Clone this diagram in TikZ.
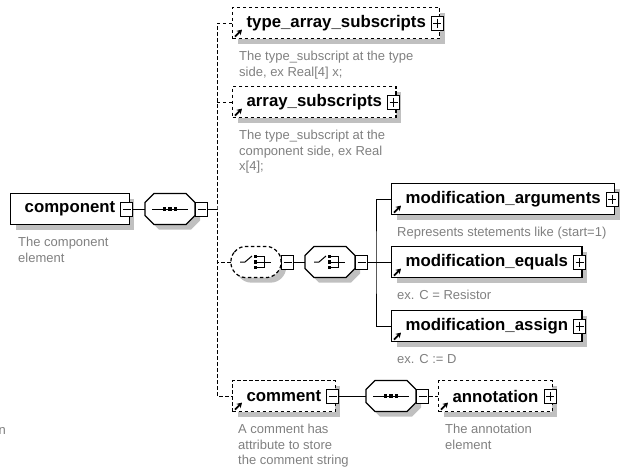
\documentclass[tikz,border=0pt]{standalone}
\usepackage{fontspec}
\setmainfont{Liberation Sans}
\usetikzlibrary{positioning,shadows,arrows.meta}

\definecolor{descgray}{RGB}{128,128,128}
\definecolor{shadowgray}{RGB}{192,192,192}

\tikzset{
  boxshadow/.style={general shadow={fill=shadowgray, shadow xshift=5pt, shadow yshift=-5pt}},
  elem/.style={draw, line width=1.2pt, fill=white, boxshadow, inner xsep=14pt, inner ysep=0pt,
    minimum height=31pt, font=\fontsize{16.8}{20}\selectfont\bfseries},
  optional/.style={dash pattern=on 3.5pt off 2.5pt},
  % the octagon itself is drawn by the pic below
  compositor/.style={minimum width=50pt, minimum height=31pt, inner sep=0pt},
  pmbox/.style={draw, line width=1pt, fill=white, minimum width=12pt, minimum height=14pt, inner sep=0pt},
  minus/.style={pmbox, path picture={\draw[line width=1pt]
      ([xshift=2pt]path picture bounding box.west) -- ([xshift=-2pt]path picture bounding box.east);}},
  plus/.style={pmbox, path picture={\draw[line width=1pt]
      ([xshift=2pt]path picture bounding box.west) -- ([xshift=-2pt]path picture bounding box.east)
      ([yshift=-2.5pt]path picture bounding box.north) -- ([yshift=2.5pt]path picture bounding box.south);}},
  link/.style={line width=1pt},
  optlink/.style={link, optional},
  refarrow/.style={line width=1.9pt, -{Stealth[length=5pt,width=6pt]}},
  desc/.style={font=\fontsize{13}{15.5}\selectfont, text=descgray, align=left, inner sep=0pt},
  octagon/.pic={
    \fill[shadowgray, xshift=5pt, yshift=-5pt]
      (-25,-6.5) -- (-16,-15.5) -- (16,-15.5) -- (25,-6.5) -- (25,6.5) -- (16,15.5) -- (-16,15.5) -- (-25,6.5) -- cycle;
    \draw[line width=1.2pt, fill=white]
      (-25,-6.5) -- (-16,-15.5) -- (16,-15.5) -- (25,-6.5) -- (25,6.5) -- (16,15.5) -- (-16,15.5) -- (-25,6.5) -- cycle;
  },
  % sequence: a line with three dots
  seqicon/.pic={
    \draw[line width=1pt] (-18,0) -- (18,0);
    \foreach \d in {-5.5,0,5.5} \fill (\d-1.8,-1.8) rectangle (\d+1.8,1.8);
  },
  % choice: a switch in front of three stacked dots
  choiceicon/.pic={
    \draw[line width=1pt] (-16,0) -- (-11,0) -- (-4,-6);
    \foreach \d in {-5.5,0,5.5} \fill (-2.5,\d-1.7) rectangle (1,\d+1.7);
    \draw[line width=1pt] (1,-5.5) -- (8,-5.5) -- (8,5.5) -- (1,5.5) (1,0) -- (15,0);
  }
}

\begin{document}
\begin{tikzpicture}[x=1pt,y=-1pt]
\useasboundingbox (0,0) rectangle (622,475);

% root element and its sequence
\node[elem, line width=1.4pt, anchor=west] (comp) at (10,209) {component};
\node[minus] (comp-pm) at ([xshift=-3pt]comp.east) {};
\node[desc, below right=12pt and 8pt of comp.south west] (comp-desc) {The component\\element};

\node[compositor] (seqA) at (170,209) {};
\pic at (seqA) {octagon};
\pic at (seqA) {seqicon};
\node[minus, anchor=west] (seqA-pm) at (seqA.east) {};
\coordinate (fork) at (217,209);

% children of the sequence
\node[elem, optional, anchor=west] (tas) at (232,23) {type\_array\_subscripts};
\node[desc, below right=12pt and 7pt of tas.south west] (tas-desc) {The type\_subscript at the type\\side, ex Real[4] x;};

\node[elem, optional, anchor=west] (arr) at (232,102) {array\_subscripts};
\node[desc, below right=12pt and 7pt of arr.south west] (arr-desc) {The type\_subscript at the\\component side, ex Real\\x[4];};

\node[compositor] (choiceA) at (256,262) {};
\pic[optional, rounded corners=5pt] at (choiceA) {octagon};
\pic at (choiceA) {choiceicon};
\node[minus, anchor=west] (choiceA-pm) at (choiceA.east) {};

\node[compositor] (choiceB) at (330,262) {};
\pic at (choiceB) {octagon};
\pic at (choiceB) {choiceicon};
\node[minus, anchor=west] (choiceB-pm) at (choiceB.east) {};
\coordinate (bracket) at (376,262);

% modification alternatives
\node[elem, anchor=west] (marg) at (391,199) {modification\_arguments};
\node[desc, below right=12pt and 6pt of marg.south west] (marg-desc) {Represents stetements like (start=1)};

\node[elem, anchor=west] (meq) at (391,262) {modification\_equals};
\node[desc, below right=12pt and 6pt of meq.south west] (meq-desc) {ex. C = Resistor};

\node[elem, anchor=west] (masg) at (391,326) {modification\_assign};
\node[desc, below right=12pt and 6pt of masg.south west] (masg-desc) {ex. C := D};

% comment with its annotation
\node[elem, optional, anchor=west] (comm) at (232,396) {comment};
\node[minus] (comm-pm) at ([xshift=-3pt]comm.east) {};
\node[desc, below right=12pt and 6pt of comm.south west] (comm-desc) {A comment has\\attribute to store\\the comment string};

\node[compositor] (seqB) at (391,396) {};
\pic at (seqB) {octagon};
\pic at (seqB) {seqicon};
\node[minus, anchor=west] (seqB-pm) at (seqB.east) {};

\node[elem, optional, anchor=west] (ann) at (438,396) {annotation};
\node[desc, below right=12pt and 7pt of ann.south west] (ann-desc) {The annotation\\element};

\node[desc, anchor=base east] (cut) at (6,434) {n};

% expand boxes and reference arrows
\foreach \n in {tas,arr,marg,meq,masg,ann}
  \node[plus] (\n-pm) at ([xshift=-3pt]\n.east) {};
\foreach \n in {tas,arr,marg,meq,masg,comm,ann}
  \draw[refarrow] ([shift={(3,-2.5)}]\n.south west) -- ++(7,-7);

% connectors
\draw[link] (comp-pm) -- (seqA);
\draw[link] (seqA-pm) -- (fork);
\draw[optlink] (tas.west) -| (fork) |- (comm.west);
\draw[optlink] (arr.west) -- (arr.west -| fork);
\draw[optlink] (choiceA.west) -- (choiceA.west -| fork);
\draw[link] (choiceA-pm) -- (choiceB);
\draw[link] (choiceB-pm) -- (bracket);
\draw[link] (marg.west) -| (bracket) |- (masg.west);
\draw[link] (bracket) -- (meq.west);
\draw[link] (comm-pm) -- (seqB);
\draw[optlink] (seqB-pm) -- (ann);
\end{tikzpicture}
\end{document}
